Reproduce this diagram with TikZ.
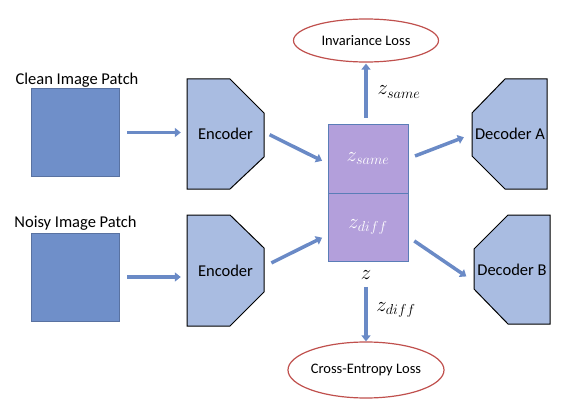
\documentclass[tikz,border=0pt]{standalone}
\usepackage{fontspec}
\setmainfont{Carlito}
\usetikzlibrary{arrows.meta,shapes.geometric}

\definecolor{patchblue}{HTML}{6F8FC9}
\definecolor{coderblue}{HTML}{A9BCE1}
\definecolor{latpurple}{HTML}{B39FDB}
\definecolor{latedge}{HTML}{5A7DB7}
\definecolor{flowblue}{HTML}{6A8AC6}
\definecolor{lossred}{HTML}{C0504D}

\begin{document}
\begin{tikzpicture}[x=1pt,y=-1pt,
	txt/.style={font=\fontsize{16.5}{20}\selectfont},
	mth/.style={font=\fontsize{20}{24}\selectfont},
	patch/.style={fill=patchblue, draw=patchblue!80!black, line width=0.6pt, minimum size=88pt, inner sep=0pt},
	coder/.style={fill=coderblue, draw=black, line width=1pt, line join=miter},
	lat/.style={fill=latpurple, draw=latedge, line width=1pt, minimum width=80pt, inner sep=0pt, text=white, mth},
	loss/.style={ellipse, draw=lossred, fill=white, line width=1.2pt, inner sep=0pt, font=\fontsize{14.5}{17}\selectfont},
	flow/.style={draw=flowblue, line width=3.5pt, -{Triangle[width=9pt,length=6pt]}}]

	\useasboundingbox (0,0) rectangle (576,412);

	% input patches
	\node[patch] (clean) at (75,132.5) {};
	\node[patch] (noisy) at (75,277) {};
	\node[txt] (cleanlab) at (77,80) {Clean Image Patch};
	\node[txt] (noisylab) at (75.5,223) {Noisy Image Patch};

	% encoders
	\draw[coder] (187,79) -- (230,79) -- (264,113) -- (264,157) -- (230,189) -- (187,189) -- cycle;
	\draw[coder] (187,215) -- (230,215) -- (264,248) -- (264,292) -- (230,326) -- (187,326) -- cycle;
	\node[txt, minimum width=77pt, minimum height=110pt, inner sep=0pt] (enc1) at (225.5,134) {Encoder};
	\node[txt, minimum width=77pt, minimum height=111pt, inner sep=0pt] (enc2) at (225.5,270.5) {Encoder};

	% decoders
	\draw[coder] (505,79) -- (547,79) -- (547,189) -- (505,189) -- (472,156) -- (472,113) -- cycle;
	\draw[coder] (508,215) -- (550,215) -- (550,324) -- (508,324) -- (474,289) -- (474,249) -- cycle;
	\node[txt, minimum width=75pt, minimum height=110pt, inner sep=0pt] (decA) at (510,134) {Decoder A};
	\node[txt, minimum width=76pt, minimum height=109pt, inner sep=0pt] (decB) at (512,269.5) {Decoder B};

	% latent code
	\node[lat, minimum height=69pt] (zsame) at (368,158.5) {$z_{same}$};
	\node[lat, minimum height=68pt] (zdiff) at (368,227) {$z_{diff}$};
	\node[mth] (zlab) at (366,275) {$z$};

	% losses
	\node[loss, minimum width=145pt, minimum height=43pt] (inv) at (366,40.5) {Invariance Loss};
	\node[loss, minimum width=126pt, minimum height=56pt] (ce) at (366,370) {Cross-Entropy Loss};

	\path[flow, shorten <=8pt, shorten >=6pt] (clean) -- (enc1.west |- clean);
	\path[flow, shorten <=8pt, shorten >=6pt] (noisy) -- (enc2.west |- noisy);
	\path[flow, shorten <=6pt, shorten >=6pt] ([yshift=2pt]enc1.east) -- ([yshift=-5pt]zsame.west);
	\path[flow, shorten <=8pt, shorten >=6pt] ([yshift=4pt]enc2.east) -- ([yshift=-8pt]zdiff.west);
	\path[flow, shorten <=7pt, shorten >=9pt] (zsame.east) -- (decA.west);
	\path[flow, shorten <=7pt, shorten >=9pt] ([yshift=-10pt]zdiff.east) -- ([yshift=-12pt]decB.west);
	\path[flow, shorten <=6pt, shorten >=1pt] (inv.south |- zsame.north) -- (inv.south);
	\path[flow, shorten <=4pt, shorten >=0pt] (zlab.south) -- (ce.north);

	\node[mth] (samelab) at (399,92) {$z_{same}$};
	\node[mth] (difflab) at (396,310) {$z_{diff}$};
\end{tikzpicture}
\end{document}
